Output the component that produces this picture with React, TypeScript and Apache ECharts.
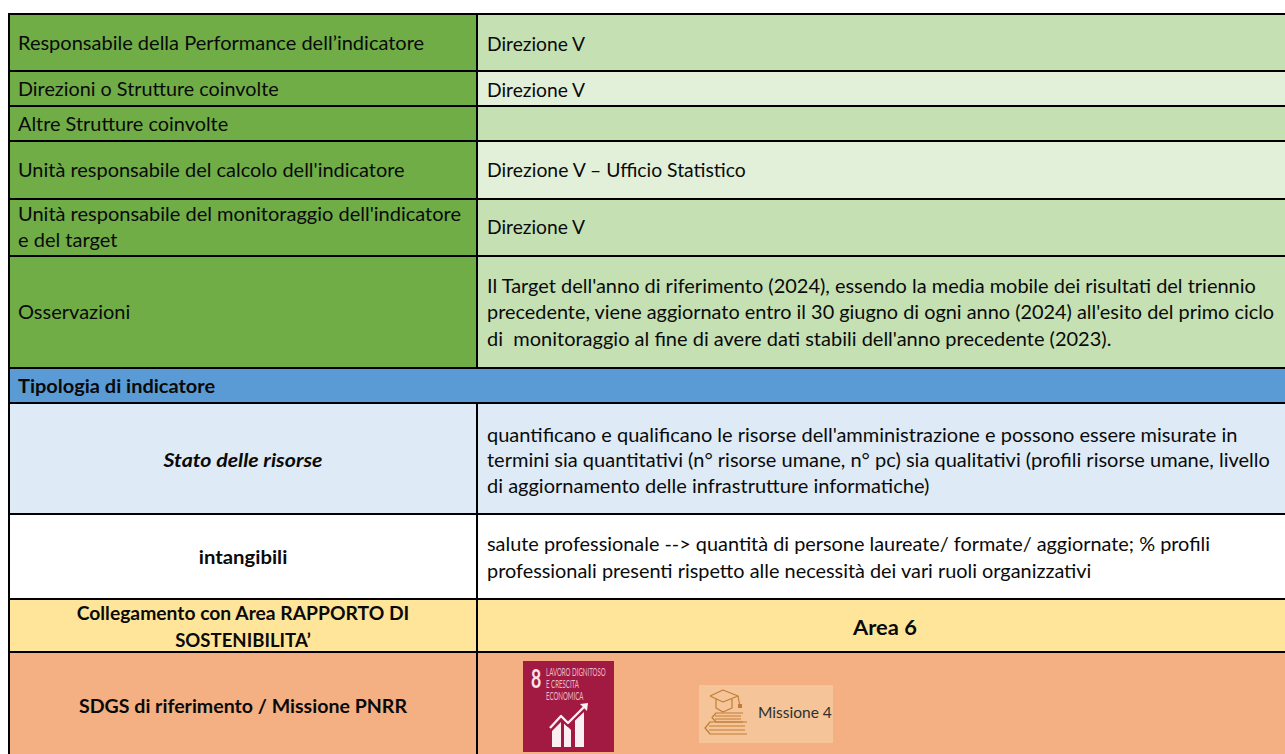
import React, { useEffect, useRef } from "react";
import * as echarts from "echarts";

// ---- content ----
const leftLabels: string[][] = [
  ["Responsabile della Performance dell’indicatore"],
  ["Direzioni o Strutture coinvolte"],
  ["Altre Strutture coinvolte"],
  ["Unità responsabile del calcolo dell'indicatore"],
  ["Unità responsabile del monitoraggio dell'indicatore", "e del target"],
  ["Osservazioni"],
];
const rightLabels: string[][] = [
  ["Direzione V"],
  ["Direzione V"],
  [],
  ["Direzione V – Ufficio Statistico"],
  ["Direzione V"],
  [
    "Il Target dell'anno di riferimento (2024), essendo la media mobile dei risultati del triennio",
    "precedente, viene aggiornato entro il 30 giugno di ogni anno (2024) all'esito del primo ciclo",
    "di  monitoraggio al fine di avere dati stabili dell'anno precedente (2023).",
  ],
];
const sectionTitle = "Tipologia di indicatore";
const typeName = "Stato delle risorse";
const typeText = [
  "quantificano e qualificano le risorse dell'amministrazione e possono essere misurate in",
  "termini sia quantitativi (n° risorse umane, n° pc) sia qualitativi (profili risorse umane, livello",
  "di aggiornamento delle infrastrutture informatiche)",
];
const intangibleName = "intangibili";
const intangibleText = [
  "salute professionale --> quantità di persone laureate/ formate/ aggiornate; % profili",
  "professionali presenti rispetto alle necessità dei vari ruoli organizzativi",
];
const areaLabel = ["Collegamento con Area RAPPORTO DI", "SOSTENIBILITA’"];
const areaValue = "Area 6";
const sdgLabel = "SDGS di riferimento / Missione PNRR";
const sdgNumber = "8";
const sdgTitle = ["LAVORO DIGNITOSO", "E CRESCITA", "ECONOMICA"];
const missionLabel = "Missione 4";

// ---- layout ----
const W = 1285;
const H = 754;
const X0 = 9;
const XM = 477;
const Y = [14, 71, 106, 141, 199, 256, 368, 403, 514, 599, 652, 756];
const LEFT_X = 18;
const RIGHT_X = 487;
const LEFT_C = 243;
const RIGHT_C = 885;
const FONT = "Lato, Carlito, Calibri, sans-serif";
const SIZE = 18.5;
const SX = 1.082;
const BOLD = 18;
const GREEN = "#70AD47";
const G1 = "#C5E0B3";
const G2 = "#E2EFD9";
const rightFills = [G1, G2, G1, G2, G1, G1];
const leftCentres = [[43], [89], [124], [170], [214, 240], [312]];
const rightCentres = [[44], [90], [], [170], [227], [286, 312, 339]];
const leftScale = [[1.082], [1.07], [1.075], [1.079], [1.082, 1.082], [1.082]];
const rightScale = [[1.04], [1.04], [], [1.046], [1.04], [1.079, 1.076, 1.082]];

function rect(x: number, y: number, w: number, h: number, fill: string, z = 1) {
  return { type: "rect", shape: { x, y, width: w, height: h }, style: { fill }, silent: true, z };
}
function txt(
  s: string,
  x: number,
  y: number,
  opts: { align?: string; fontWeight?: string; fontStyle?: string; size?: number; sx?: number; fill?: string; family?: string; z?: number } = {}
) {
  return {
    type: "text",
    x,
    y,
    scaleX: opts.sx ?? SX,
    z: opts.z ?? 5,
    silent: true,
    style: {
      text: s,
      fill: opts.fill ?? "#0a0a0a",
      font: `${opts.fontStyle ?? "normal"} ${opts.fontWeight ?? "normal"} ${opts.size ?? SIZE}px ${opts.family ?? FONT}`,
      textAlign: opts.align ?? "left",
      textVerticalAlign: "middle",
    },
  };
}
function poly(points: number[][], stroke: string, lineWidth = 1.3, fill?: string) {
  return {
    type: fill ? "polygon" : "polyline",
    shape: { points },
    style: { stroke: fill ? undefined : stroke, fill: fill ?? "none", lineWidth, lineJoin: "round" },
    silent: true,
    z: 7,
  };
}

function buildGraphics() {
  const els: any[] = [];
  for (let i = 0; i < 6; i++) {
    const h = Y[i + 1] - Y[i];
    els.push(rect(X0, Y[i], XM - X0, h, GREEN));
    els.push(rect(XM, Y[i], W - XM, h, rightFills[i]));
  }
  els.push(rect(X0, Y[6], W - X0, Y[7] - Y[6], "#5B9BD5"));
  els.push(rect(X0, Y[7], W - X0, Y[8] - Y[7], "#DEEAF6"));
  els.push(rect(X0, Y[8], W - X0, Y[9] - Y[8], "#FFFFFF"));
  els.push(rect(X0, Y[9], W - X0, Y[10] - Y[9], "#FFE599"));
  els.push(rect(X0, Y[10], W - X0, Y[11] - Y[10], "#F4B083"));

  Y.slice(0, 11).forEach((y) => els.push(rect(8, y - 1, W - 8, 2, "#000", 3)));
  els.push(rect(8, 13, 2, H - 13, "#000", 3));
  els.push(rect(XM - 1, 13, 2, Y[6] - 13, "#000", 3));
  els.push(rect(XM - 1, Y[7], 2, H - Y[7], "#000", 3));

  leftLabels.forEach((lines, i) =>
    lines.forEach((s, j) => els.push(txt(s, LEFT_X, leftCentres[i][j], { sx: leftScale[i][j] })))
  );
  rightLabels.forEach((lines, i) =>
    lines.forEach((s, j) => els.push(txt(s, RIGHT_X, rightCentres[i][j], { sx: rightScale[i][j] })))
  );

  els.push(txt(sectionTitle, LEFT_X, 386, { fontWeight: "bold", size: BOLD, sx: 1.111 }));
  els.push(txt(typeName, LEFT_C, 460, { align: "center", fontWeight: "bold", fontStyle: "italic", size: BOLD, sx: 1.186 }));
  [435, 460, 486].forEach((y, i) => els.push(txt(typeText[i], RIGHT_X, y)));
  els.push(txt(intangibleName, LEFT_C, 557, { align: "center", fontWeight: "bold", size: BOLD, sx: 1.129 }));
  [544, 571].forEach((y, i) => els.push(txt(intangibleText[i], RIGHT_X, y, { sx: 1.075 })));
  els.push(txt(areaLabel[0], LEFT_C, 613, { align: "center", fontWeight: "bold", size: BOLD, sx: 1.072 }));
  els.push(txt(areaLabel[1], LEFT_C, 640, { align: "center", fontWeight: "bold", size: BOLD, sx: 1.032 }));
  els.push(txt(areaValue, RIGHT_C, 627, { align: "center", fontWeight: "bold", size: 20, sx: 1.094 }));
  els.push(txt(sdgLabel, LEFT_C, 706, { align: "center", fontWeight: "bold", size: BOLD, sx: 1.088 }));

  // SDG tile
  const lite = "#FBEFF3";
  els.push(rect(523, 661, 91, 91, "#A21942", 6));
  els.push(txt(sdgNumber, 536, 678, { align: "center", fontWeight: "bold", size: 26, sx: 0.68, fill: "#F7E4EA", z: 7 }));
  [672, 684, 695.5].forEach((y, i) =>
    els.push(txt(sdgTitle[i], 546, y, { size: 11, sx: 0.556, fill: "#E8BECB", z: 7 }))
  );
  els.push(poly([[552, 731], [561, 722], [561, 747], [552, 747]], "", 0, lite));
  els.push(poly([[564, 723], [571, 730], [571, 747], [564, 747]], "", 0, lite));
  els.push(poly([[575, 720], [584, 712], [584, 747], [575, 747]], "", 0, lite));
  els.push(poly([[550, 729], [561, 717], [568, 724], [585, 707]], "#A21942", 5));
  els.push(poly([[550, 728], [561, 716], [568, 723], [585, 706]], lite, 2.4));
  els.push(poly([[580, 704], [588, 703], [587, 711]], "", 0, lite));

  // Mission tile
  els.push(rect(699, 685, 134, 58, "#F5C599", 6));
  const ic = "#C27C34";
  els.push(poly([[710, 696], [723, 690], [738, 696], [723, 702], [710, 696]], ic, 1.2));
  els.push(poly([[716, 699], [716, 708], [723, 712], [732, 708], [732, 699]], ic, 1.2));
  els.push(poly([[738, 696], [739.5, 704]], ic, 1.2));
  els.push(rect(738, 704, 4, 4, ic, 7));
  els.push(poly([[743, 713], [716, 713], [712, 717.5], [716, 722], [743, 722]], ic, 1.2));
  els.push(poly([[747, 722], [710, 722], [705, 728], [710, 734], [747, 734]], ic, 1.2));
  els.push(poly([[715, 716], [741, 716]], ic, 1));
  els.push(poly([[715, 719], [741, 719]], ic, 1));
  els.push(poly([[709, 726], [745, 726]], ic, 1));
  els.push(poly([[709, 730], [745, 730]], ic, 1));
  els.push(txt(missionLabel, 758, 712, { size: 15, sx: 1.036, fill: "#2f2f2f", z: 7, family: "Lato, sans-serif" }));
  return els;
}

export default function App() {
  const ref = useRef<HTMLDivElement>(null);
  useEffect(() => {
    document.body.style.margin = "0";
    document.body.style.overflow = "hidden";
    const chart = echarts.init(ref.current!, undefined, { renderer: "svg", width: W, height: H });
    chart.setOption({ animation: false, backgroundColor: "#fff", graphic: { elements: buildGraphics() } });
    return () => chart.dispose();
  }, []);
  return <div ref={ref} style={{ width: W, height: H }} />;
}
